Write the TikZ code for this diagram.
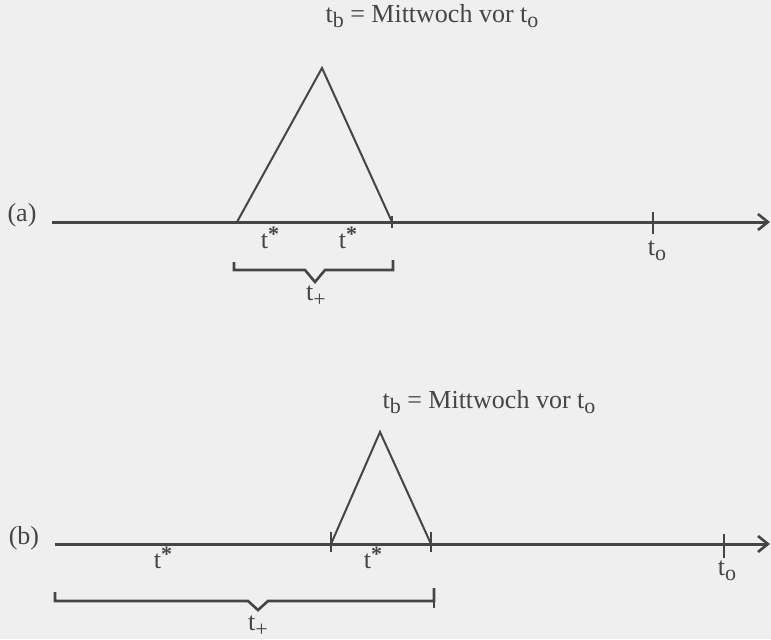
\documentclass[tikz,border=0pt]{standalone}
\usepackage{fontspec}
\setmainfont{Liberation Serif}
\usetikzlibrary{arrows.meta}
\definecolor{ink}{HTML}{454545}
\definecolor{paper}{HTML}{EFEFEF}
\newcommand{\lowsub}[1]{\raisebox{-0.45ex}{\fontsize{11}{10}\selectfont #1}}
\newcommand{\highsup}[1]{\raisebox{0.55ex}{\fontsize{11}{10}\selectfont\bfseries #1}}
\begin{document}
\begin{tikzpicture}[x=0.5pt,y=-0.5pt,
  axis/.style={draw=ink,line width=1.5pt,-{Straight Barb[length=5pt,width=8pt,line width=1.3pt]}},
  tri/.style={draw=ink,line width=1pt,line join=miter},
  brace/.style={draw=ink,line width=1.3pt},
  tick/.style={draw=ink,line width=0.9pt},
  lbl/.style={text=ink,font=\fontsize{13}{15}\selectfont,inner sep=1pt}]
\fill[paper] (0,0) rectangle (771,639);
\useasboundingbox (0,0) rectangle (771,639);
% ---------- (a) ----------
\node[lbl] (la) at (22,215) {(a)};
\coordinate (a0) at (52,222);
\coordinate (a1) at (770,222);
\coordinate (aL) at (237,222);
\coordinate (aT) at (322,68);
\coordinate (aR) at (392,222);
\coordinate (aO) at (653,222);
\draw[axis] (a0) -- (a1);
\draw[tri] (aL) -- (aT) -- (aR);
\draw[tick] ([yshift=-3]aR) -- ([yshift=3]aR);
\draw[tick] ([yshift=-6]aO) -- ([yshift=5]aO);
\node[lbl] (ta) at (432,16) {t\lowsub{b} = Mittwoch vor t\lowsub{o}};
\node[lbl] (sa1) at (270,238) {t\highsup{*}};
\node[lbl] (sa2) at (348,238) {t\highsup{*}};
\node[lbl] (oa) at (657,251) {t\lowsub{o}};
\coordinate (ba1) at (234,262);
\coordinate (ba2) at (393,260);
\coordinate (bam) at (315,282);
\draw[brace] (ba1) -- (234,270) -- (305,270) -- (bam) -- (325,270) -- (393,270) -- (ba2);
\node[lbl] (pa) at (316,296) {t\lowsub{+}};
% ---------- (b) ----------
\node[lbl] (lb) at (24,538) {(b)};
\coordinate (b0) at (55,544);
\coordinate (b1) at (770,544);
\coordinate (bL) at (331,544);
\coordinate (bT) at (380,432);
\coordinate (bR) at (431,544);
\coordinate (bO) at (724,544);
\draw[axis] (b0) -- (b1);
\draw[tri] (bL) -- (bT) -- (bR);
\draw[tick] ([yshift=-4]bL) -- ([yshift=6]bL);
\draw[tick] ([yshift=-4]bR) -- ([yshift=6]bR);
\draw[tick] ([yshift=-7]bO) -- ([yshift=5]bO);
\node[lbl] (tb) at (489,402) {t\lowsub{b} = Mittwoch vor t\lowsub{o}};
\node[lbl] (sb1) at (163,558) {t\highsup{*}};
\node[lbl] (sb2) at (373,558) {t\highsup{*}};
\node[lbl] (ob) at (727,571) {t\lowsub{o}};
\coordinate (bb1) at (55,592);
\coordinate (bb2) at (434,588);
\coordinate (bbm) at (258,610);
\draw[brace] (bb1) -- (55,601) -- (248,601) -- (bbm) -- (268,601) -- (434,601) -- (bb2);
\draw[tick] (434,601) -- (434,608);
\node[lbl] (pb) at (258,626) {t\lowsub{+}};
\end{tikzpicture}
\end{document}
